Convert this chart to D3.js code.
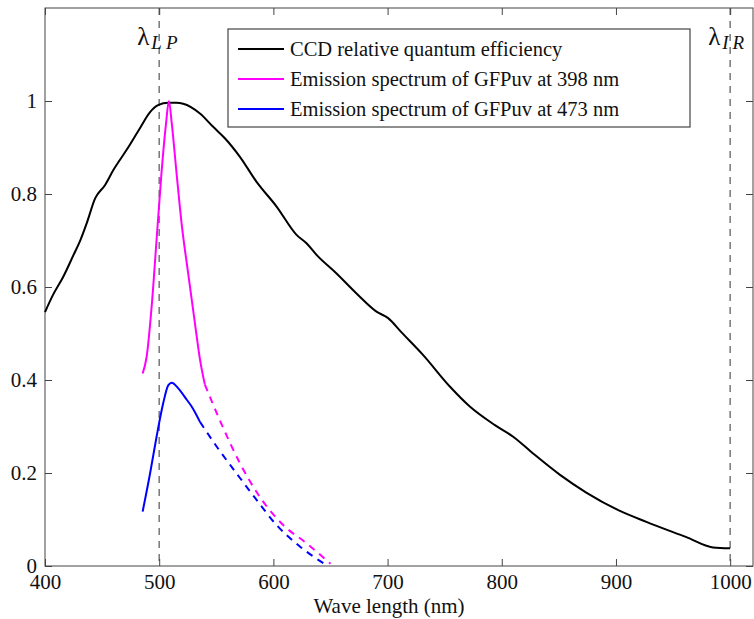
<!DOCTYPE html>
<html>
<head>
<meta charset="utf-8">
<script src="https://cdn.jsdelivr.net/npm/d3@7"></script>
<style>
  body { margin: 0; background: #fff; }
</style>
</head>
<body>
<div id="vis"></div>
<script>
const width = 754;
const height = 619;
const margin = { top: 8, right: 1, bottom: 53, left: 45 };
const serif = '"Liberation Serif"';

// CCD relative quantum efficiency
const ccdWave = [400, 407, 416, 425, 431, 436.5, 444, 452.5, 460, 471.5, 483, 492, 499, 508, 515,
  521, 535.7, 547, 557.5, 570.7, 585.3, 602.8, 620.3, 629, 637.8, 655.3, 672.8, 690.3, 700.5,
  712, 731, 754.5, 772, 794, 810, 827.4, 851, 874, 903, 926.6, 961.7, 985, 1000];
const ccdQE = [0.546, 0.583, 0.622, 0.669, 0.701, 0.737, 0.791, 0.819, 0.852, 0.895, 0.941, 0.976, 0.991, 0.996, 0.996,
  0.994, 0.973, 0.945, 0.920, 0.880, 0.826, 0.773, 0.712, 0.694, 0.669, 0.629, 0.586, 0.547, 0.533,
  0.503, 0.454, 0.386, 0.343, 0.303, 0.278, 0.242, 0.196, 0.158, 0.119, 0.095, 0.062, 0.040, 0.038];

// GFPuv emission, excitation 398 nm (measured, then extrapolated)
const gfp398Wave = [485.5, 489, 493.4, 497.7, 502, 506, 508.5, 511, 515.2, 519.6, 525.4, 531.3, 536, 540];
const gfp398Val = [0.414, 0.45, 0.558, 0.701, 0.845, 0.952, 1.0, 0.952, 0.845, 0.737, 0.629, 0.522, 0.44, 0.39];
const gfp398ExtWave = [540, 553, 570.7, 588, 608.6, 629, 650];
const gfp398ExtVal = [0.39, 0.314, 0.221, 0.149, 0.088, 0.049, 0.005];

// GFPuv emission, excitation 473 nm
const gfp473Wave = [485.5, 492, 497.7, 503.5, 508, 511, 516.7, 524, 528.4, 535.7];
const gfp473Val = [0.117, 0.199, 0.278, 0.350, 0.389, 0.394, 0.382, 0.358, 0.343, 0.310];
const gfp473ExtWave = [535.7, 550.3, 567.8, 585.3, 602.8, 623.2, 645];
const gfp473ExtVal = [0.310, 0.257, 0.199, 0.142, 0.088, 0.042, 0.004];

const xTicks = [400, 500, 600, 700, 800, 900, 1000];
const yTicks = [0, 0.2, 0.4, 0.6, 0.8, 1];
const cutoffs = [{ wave: 500, sub: "LP" }, { wave: 1000, sub: "IR" }];

const legendItems = [
  { label: "CCD relative quantum efficiency", color: "#000000" },
  { label: "Emission spectrum of GFPuv at 398 nm", color: "#ff00ff" },
  { label: "Emission spectrum of GFPuv at 473 nm", color: "#0000ff" }
];

const xScale = d3.scaleLinear().domain([400, 1020]).range([margin.left, width - margin.right]);
const yScale = d3.scaleLinear().domain([0, 1.2]).range([height - margin.bottom, margin.top]);

const svg = d3.select("#vis").append("svg")
  .attr("width", width)
  .attr("height", height);

const x0 = margin.left, x1 = width - margin.right;
const y0 = height - margin.bottom, y1 = margin.top;

// cutoff lines
cutoffs.forEach(c => {
  svg.append("line")
    .attr("x1", xScale(c.wave)).attr("x2", xScale(c.wave))
    .attr("y1", y1).attr("y2", y0)
    .attr("stroke", "#777").attr("stroke-width", 1.5)
    .attr("stroke-dasharray", "7,6");
});

// axes with inward ticks
function styleAxis(g) {
  g.select(".domain").remove();
  g.selectAll(".tick line").attr("stroke", "#444");
  g.selectAll(".tick text")
    .style("font-family", serif)
    .style("font-size", "21px")
    .attr("fill", "#111");
}

svg.append("g")
  .attr("transform", `translate(0,${y0})`)
  .call(d3.axisBottom(xScale).tickValues(xTicks).tickSizeInner(-7).tickSizeOuter(0).tickPadding(8)
    .tickFormat(d3.format("d")))
  .call(styleAxis);

svg.append("g")
  .attr("transform", `translate(0,${y1})`)
  .call(d3.axisTop(xScale).tickValues(xTicks).tickSizeInner(-7).tickSizeOuter(0).tickFormat(""))
  .call(styleAxis);

svg.append("g")
  .attr("transform", `translate(${x0},0)`)
  .call(d3.axisLeft(yScale).tickValues(yTicks).tickSizeInner(-7).tickSizeOuter(0).tickPadding(8)
    .tickFormat(d3.format("~g")))
  .call(styleAxis);

svg.append("g")
  .attr("transform", `translate(${x1},0)`)
  .call(d3.axisRight(yScale).tickValues(yTicks).tickSizeInner(-7).tickSizeOuter(0).tickFormat(""))
  .call(styleAxis);

svg.append("rect")
  .attr("x", x0).attr("y", y1)
  .attr("width", x1 - x0).attr("height", y0 - y1)
  .attr("fill", "none").attr("stroke", "#444").attr("stroke-width", 1);

svg.append("text")
  .attr("x", 389)
  .attr("y", 613)
  .attr("text-anchor", "middle")
  .style("font-family", serif)
  .style("font-size", "21px")
  .attr("fill", "#111")
  .text("Wave length (nm)");

// cutoff labels
cutoffs.forEach(c => {
  const t = svg.append("text")
    .attr("x", xScale(c.wave) - 22)
    .attr("y", 45)
    .style("font-family", serif)
    .attr("fill", "#111");
  t.append("tspan").style("font-size", "25px").text("λ");
  t.append("tspan").attr("dy", 4).attr("dx", 2)
    .style("font-size", "19px").style("font-style", "italic")
    .style("letter-spacing", "4px")
    .text(c.sub);
});

const line = d3.line()
  .x(d => xScale(d[0]))
  .y(d => yScale(d[1]))
  .curve(d3.curveMonotoneX);

function drawCurve(xs, ys, color, dashed) {
  svg.append("path")
    .datum(xs.map((w, i) => [w, ys[i]]))
    .attr("d", line)
    .attr("fill", "none")
    .attr("stroke", color)
    .attr("stroke-width", 2)
    .attr("stroke-dasharray", dashed ? "7,6" : null);
}

drawCurve(ccdWave, ccdQE, "#000000", false);
drawCurve(gfp398Wave, gfp398Val, "#ff00ff", false);
drawCurve(gfp398ExtWave, gfp398ExtVal, "#ff00ff", true);
drawCurve(gfp473Wave, gfp473Val, "#0000ff", false);
drawCurve(gfp473ExtWave, gfp473ExtVal, "#0000ff", true);

// legend
const legend = svg.append("g").attr("transform", "translate(228,29)");
legend.append("rect")
  .attr("width", 462).attr("height", 98)
  .attr("fill", "#fff").attr("stroke", "#444").attr("stroke-width", 1.2);

legendItems.forEach((item, i) => {
  const cy = 20 + i * 30;
  legend.append("line")
    .attr("x1", 10).attr("x2", 56)
    .attr("y1", cy).attr("y2", cy)
    .attr("stroke", item.color).attr("stroke-width", 2);
  legend.append("text")
    .attr("x", 62).attr("y", cy + 7)
    .style("font-family", serif)
    .style("font-size", "20.5px")
    .attr("fill", "#111")
    .text(item.label);
});
</script>
</body>
</html>
